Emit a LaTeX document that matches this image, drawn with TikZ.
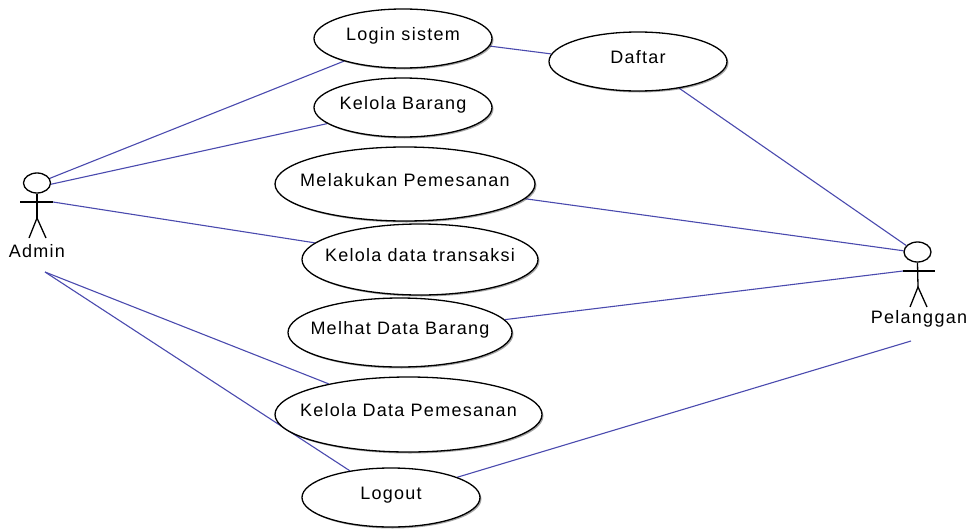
\documentclass[tikz,border=0pt]{standalone}
\usepackage{fontspec}
\setmainfont{Liberation Sans}[LetterSpace=7]
\usepackage{xcolor}
\usepackage{tikz}
\usetikzlibrary{shapes, shadows, backgrounds}

\definecolor{linkblue}{HTML}{4A4AAE}
\newcommand{\uctext}[1]{\makebox[0pt]{#1}}

\tikzset{
    usecase/.style={draw=black, ellipse, fill=white, inner sep=0pt, line width=1.3pt,
        text height=14pt, text depth=10pt,
        font=\fontsize{18}{20}\selectfont,
        drop shadow={shadow xshift=1.5pt, shadow yshift=-1.5pt, opacity=0.35, fill=black}},
    head/.style={draw=black, ellipse, fill=white, inner sep=0pt, line width=1.3pt},
    limb/.style={draw=black, line width=1.3pt},
    link/.style={draw=linkblue, line width=1.1pt},
    actorname/.style={font=\fontsize{18}{20}\selectfont}
}

\begin{document}
\begin{tikzpicture}[x=1pt,y=-1pt]
    \useasboundingbox (0,0) rectangle (969,530);

    % use cases
    \node[usecase, minimum width=178pt, minimum height=59pt] (login) at (403,38.5) {\uctext{Login sistem}};
    \node[usecase, minimum width=178pt, minimum height=59pt] (barang) at (403,107.5) {\uctext{Kelola Barang}};
    \node[usecase, minimum width=178pt, minimum height=59pt] (daftar) at (638,61.5) {\uctext{Daftar}};
    \node[usecase, minimum width=260pt, minimum height=74pt] (pesan) at (405,184) {\uctext{Melakukan Pemesanan}};
    \node[usecase, minimum width=236pt, minimum height=71pt] (transaksi) at (420,259.5) {\uctext{Kelola data transaksi}};
    \node[usecase, minimum width=224pt, minimum height=69pt] (lihat) at (400,332.5) {\uctext{Melhat Data Barang}};
    \node[usecase, minimum width=267pt, minimum height=75pt] (datapesan) at (408.5,414.5) {\uctext{Kelola Data Pemesanan}};
    \node[usecase, minimum width=178pt, minimum height=59pt] (logout) at (391,497.5) {\uctext{Logout}};

    % actor admin
    \node[head, minimum width=27pt, minimum height=20pt] (adminhead) at (37,183) {};
    \coordinate (adminarml) at (20,202);
    \coordinate (adminarmr) at (53,202);
    \coordinate (adminhip) at (37,218);
    \draw[limb] (adminhead.south) -- (adminhip);
    \draw[limb] (adminarml) -- (adminarmr);
    \draw[limb] (29,238) -- (adminhip) -- (46,238);
    \node[actorname] (adminname) at (37,251) {Admin};
    \coordinate (adminfree) at (45,272);

    % actor pelanggan
    \node[head, minimum width=27pt, minimum height=20pt] (plghead) at (917.5,252) {};
    \coordinate (plgarml) at (903,271);
    \coordinate (plgarmr) at (935,271);
    \coordinate (plghip) at (918,287);
    \draw[limb] (plghead.south) -- (plghip);
    \draw[limb] (plgarml) -- (plgarmr);
    \draw[limb] (910,307) -- (plghip) -- (927,307);
    \node[actorname] (plgname) at (919,319) {Pelanggan};
    \coordinate (plgfree) at (911,341);

    % links
    \begin{scope}[on background layer]
        \draw[link] (adminhead.20) -- (login.201);
        \draw[link] (adminhead.-5) -- (barang.192);
        \draw[link] (adminarmr) -- (transaksi.171);
        \draw[link] (adminfree) -- (datapesan.159);
        \draw[link] (adminfree) -- (logout.147);
        \draw[link] (login.-5) -- (daftar.175);
        \draw[link] (daftar.-33) -- (plghead.150);
        \draw[link] (pesan.-7) -- (plghead.175);
        \draw[link] (lihat.7) -- (plgarml);
        \draw[link] (logout.17) -- (plgfree);
    \end{scope}
\end{tikzpicture}
\end{document}
